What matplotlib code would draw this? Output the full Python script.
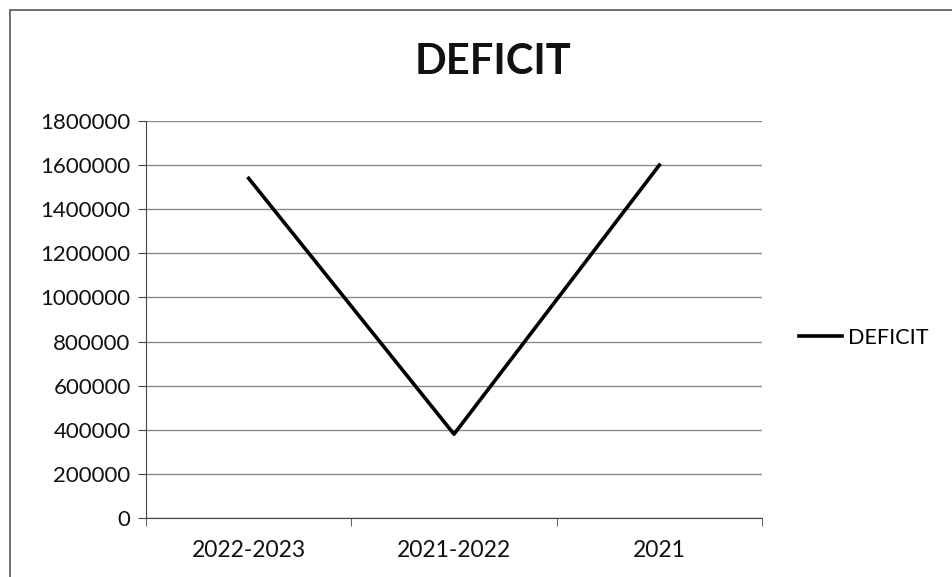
import matplotlib.pyplot as plt
from matplotlib.patches import Rectangle

years = ["2022-2023", "2021-2022", "2021"]
deficit = [1540000, 380000, 1600000]
y_ticks = list(range(0, 1800001, 200000))

plt.rcParams["font.family"] = ["Lato", "DejaVu Sans"]

fig = plt.figure(figsize=(9.53, 5.77), dpi=100)
ax = fig.add_axes([0.1532, 0.1023, 0.6464, 0.688])

x = range(len(years))
ax.plot(x, deficit, color="black", linewidth=2.6, label="DEFICIT")

ax.set_xlim(-0.5, len(years) - 0.5)
ax.set_ylim(0, 1800000)
ax.set_yticks(y_ticks)
ax.set_yticklabels([str(v) for v in y_ticks], fontsize=16, color="#111111")
ax.set_xticks(list(x))
ax.set_xticklabels(years, fontsize=16.5, color="#111111")
ax.set_xticks([i - 0.5 for i in range(len(years) + 1)], minor=True)
ax.tick_params(axis="x", which="major", length=0, pad=16)
ax.tick_params(axis="x", which="minor", length=6, direction="out", color="#444444")
ax.tick_params(axis="y", length=6, direction="out", color="#444444", pad=5)

ax.grid(axis="y", color="#8a8a8a", linewidth=1.0)
ax.set_axisbelow(True)
for side in ["top", "right"]:
    ax.spines[side].set_visible(False)
ax.spines["left"].set_color("#444444")
ax.spines["bottom"].set_color("#444444")

fig.text(0.517, 0.893, "DEFICIT", ha="center", va="center",
         fontsize=30, fontweight="bold", color="#111111")

fig.legend(loc="center left", bbox_to_anchor=(0.838, 0.415), frameon=False,
           fontsize=15.5, handlelength=2.0, handletextpad=0.3,
           borderpad=0, borderaxespad=0)

# chart border (cropped scan)
fig.patches.append(Rectangle((0.011, -0.05), 1.2, 1.033, transform=fig.transFigure,
                             fill=False, edgecolor="#555555", linewidth=1.2))

fig.savefig("out.png", dpi=100)
